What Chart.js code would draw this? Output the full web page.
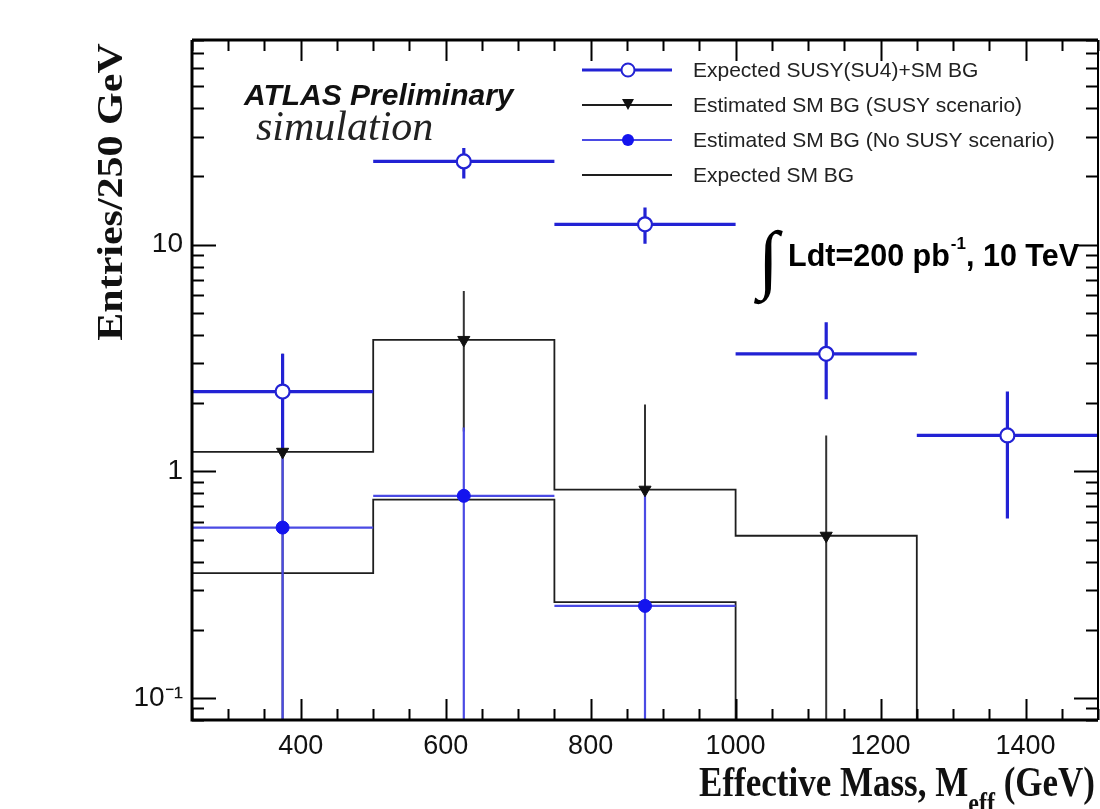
<!DOCTYPE html>
<html>
<head>
    <title>Effective Mass</title>
    <script src="https://cdn.jsdelivr.net/npm/chart.js"></script>
    <style>
        body { margin: 0; background: #fff; }
    </style>
</head>
<body>
    <canvas id="myChart" width="1100" height="809"></canvas>
    <script>
    // bins (GeV)
    const binEdges = [250, 500, 750, 1000, 1250, 1500];
    const binCenters = [375, 625, 875, 1125, 1375];

    // Expected SUSY(SU4)+SM BG
    const susyVal = [2.25, 23.3, 12.3, 3.3, 1.44];
    const susyHi = [3.3, 26.7, 14.6, 4.55, 2.25];
    const susyLo = [1.25, 19.6, 10.1, 2.08, 0.62];

    // Estimated SM BG (SUSY scenario)
    const estSusyVal = [1.22, 3.8, 0.83, 0.52, 0];
    const estSusyHi = [3.3, 6.25, 1.97, 1.44, 0];
    const estSusyLo = [0, 1.5, 0, 0, 0];

    // Estimated SM BG (No SUSY scenario)
    const estNoSusyVal = [0.565, 0.78, 0.255, 0, 0];
    const estNoSusyHi = [1.22, 1.56, 0.83, 0, 0];
    const estNoSusyLo = [0, 0, 0, 0, 0];

    // Expected SM BG
    const expSmBg = [0.356, 0.75, 0.265, 0, 0];

    const xTickVals = [400, 600, 800, 1000, 1200, 1400];
    const yTickVals = [0.1, 1, 10];
    const yTickLabels = ['10\u207B\u00B9', '1', '10'];

    const yMin = 0.08, yMax = 80;
    const BLUE = '#2222d4';
    const BLUE_LIGHT = '#4a4ae4';
    const BLACK = '#1e1e1e';

    // empty bins go down to the floor of the log axis
    const floor = v => (v > 0 ? v : yMin);

    function stepData(vals) {
        const pts = vals.map((v, i) => ({x: binEdges[i], y: floor(v)}));
        pts.push({x: binEdges[vals.length], y: floor(vals[vals.length - 1])});
        return pts;
    }
    function vBars(vals, lo, hi) {
        const pts = [];
        vals.forEach((v, i) => {
            if (v <= 0) return;
            pts.push({x: binCenters[i], y: floor(lo[i])}, {x: binCenters[i], y: floor(hi[i])}, {x: binCenters[i], y: null});
        });
        return pts;
    }
    function hBars(vals) {
        const pts = [];
        vals.forEach((v, i) => {
            if (v <= 0) return;
            pts.push({x: binEdges[i], y: v}, {x: binEdges[i + 1], y: v}, {x: binEdges[i + 1], y: null});
        });
        return pts;
    }
    function markers(vals) {
        return vals.map((v, i) => (v > 0 ? {x: binCenters[i], y: v} : null)).filter(p => p);
    }

    const lineDs = (data, color, width, order, extra) => Object.assign({
        data: data, borderColor: color, borderWidth: width, pointRadius: 0,
        fill: false, spanGaps: false, tension: 0, order: order
    }, extra || {});

    const datasets = [
        lineDs(stepData(expSmBg), BLACK, 1.8, 20, {stepped: 'before'}),
        lineDs(stepData(estSusyVal), BLACK, 1.8, 19, {stepped: 'before'}),
        lineDs(vBars(estSusyVal, estSusyLo, estSusyHi), '#333', 2, 18),
        lineDs(hBars(estNoSusyVal), BLUE_LIGHT, 2.2, 15),
        lineDs(vBars(estNoSusyVal, estNoSusyLo, estNoSusyHi), BLUE_LIGHT, 2.2, 15),
        lineDs(hBars(susyVal), BLUE, 3.2, 10),
        lineDs(vBars(susyVal, susyLo, susyHi), BLUE, 3.2, 10),
        {data: markers(estNoSusyVal), showLine: false, pointStyle: 'circle', pointRadius: 6.5,
         pointBackgroundColor: '#1414ee', pointBorderColor: '#1414ee', pointBorderWidth: 1, order: 3},
        {data: markers(estSusyVal), showLine: false, pointStyle: 'triangle', pointRotation: 180, pointRadius: 7,
         pointBackgroundColor: '#111', pointBorderColor: '#111', pointBorderWidth: 1, order: 2},
        {data: markers(susyVal), showLine: false, pointStyle: 'circle', pointRadius: 7,
         pointBackgroundColor: '#fff', pointBorderColor: BLUE, pointBorderWidth: 2.2, order: 1}
    ];

    // inward ROOT-style ticks, frame, titles, legend
    const decorPlugin = {
        id: 'decor',
        afterDraw(chart) {
            const ctx = chart.ctx;
            const a = chart.chartArea;
            const xs = chart.scales.x, ys = chart.scales.y;
            ctx.save();
            ctx.strokeStyle = '#000';
            ctx.lineWidth = 2;
            ctx.beginPath();
            for (let v = 250; v <= 1500; v += 50) {
                const px = Math.round(xs.getPixelForValue(v)) + 0.5;
                const len = xTickVals.includes(v) ? 21 : 11;
                ctx.moveTo(px, a.bottom); ctx.lineTo(px, a.bottom - len);
                ctx.moveTo(px, a.top); ctx.lineTo(px, a.top + len);
            }
            for (let d = -2; d <= 1; d++) {
                for (let k = 1; k <= 9; k++) {
                    const v = k * Math.pow(10, d);
                    if (v < yMin * 0.999 || v > yMax * 1.001) continue;
                    const py = Math.round(ys.getPixelForValue(v)) + 0.5;
                    const len = k === 1 ? 24 : 12;
                    ctx.moveTo(a.left, py); ctx.lineTo(a.left + len, py);
                    ctx.moveTo(a.right, py); ctx.lineTo(a.right - len, py);
                }
            }
            ctx.stroke();

            // frame
            ctx.lineWidth = 3;
            ctx.beginPath();
            ctx.moveTo(a.left, a.top); ctx.lineTo(a.left, a.bottom); ctx.lineTo(a.right, a.bottom);
            ctx.moveTo(a.left, a.top); ctx.lineTo(a.right, a.top);
            ctx.stroke();
            ctx.lineWidth = 2;
            ctx.beginPath();
            ctx.moveTo(a.right, a.top); ctx.lineTo(a.right, a.bottom);
            ctx.stroke();

            // y title
            ctx.fillStyle = '#111';
            ctx.save();
            ctx.translate(122, 192);
            ctx.rotate(-Math.PI / 2);
            ctx.scale(1.2, 1);
            ctx.font = 'bold 35px "Liberation Serif", "Times New Roman", serif';
            ctx.textAlign = 'center';
            ctx.textBaseline = 'alphabetic';
            ctx.fillText('Entries/250 GeV', 0, 0);
            ctx.restore();

            // x title with subscript
            ctx.save();
            ctx.translate(1095, 796);
            ctx.scale(1, 1.2);
            ctx.textAlign = 'right';
            ctx.textBaseline = 'alphabetic';
            ctx.font = 'bold 35px "Liberation Serif", "Times New Roman", serif';
            const tail = ' (GeV)';
            const wTail = ctx.measureText(tail).width;
            ctx.fillText(tail, 0, 0);
            ctx.font = 'bold 24px "Liberation Serif", "Times New Roman", serif';
            const wSub = ctx.measureText('eff').width;
            ctx.fillText('eff', -wTail, 14);
            ctx.font = 'bold 35px "Liberation Serif", "Times New Roman", serif';
            ctx.fillText('Effective Mass, M', -wTail - wSub, 0);
            ctx.restore();

            // ATLAS label
            ctx.textAlign = 'left';
            ctx.textBaseline = 'alphabetic';
            ctx.font = 'italic bold 30px "Liberation Sans", Arial, sans-serif';
            ctx.fillText('ATLAS Preliminary', 244, 105);
            ctx.font = 'italic 42px "Liberation Serif", "Times New Roman", serif';
            ctx.fillStyle = '#222';
            ctx.fillText('simulation', 256, 140);

            // luminosity
            ctx.fillStyle = '#000';
            ctx.font = '76px "Liberation Serif", "Times New Roman", serif';
            ctx.fillText('\u222B', 758, 284);
            ctx.font = 'bold 30.5px "Liberation Sans", Arial, sans-serif';
            let tx = 788;
            ctx.fillText('Ldt=200 pb', tx, 266);
            tx += ctx.measureText('Ldt=200 pb').width + 1;
            ctx.font = 'bold 17px "Liberation Sans", Arial, sans-serif';
            ctx.fillText('-1', tx, 249);
            tx += ctx.measureText('-1').width;
            ctx.font = 'bold 30.5px "Liberation Sans", Arial, sans-serif';
            ctx.fillText(', 10 TeV', tx, 266);

            // legend
            const rows = [
                {label: 'Expected SUSY(SU4)+SM BG', color: BLUE, width: 3, marker: 'open'},
                {label: 'Estimated SM BG (SUSY scenario)', color: BLACK, width: 2, marker: 'tri'},
                {label: 'Estimated SM BG (No SUSY scenario)', color: BLUE_LIGHT, width: 2, marker: 'dot'},
                {label: 'Expected SM BG', color: BLACK, width: 1.8, marker: null}
            ];
            rows.forEach((r, i) => {
                const y = 70 + i * 35;
                ctx.strokeStyle = r.color;
                ctx.lineWidth = r.width;
                ctx.beginPath();
                ctx.moveTo(582, y); ctx.lineTo(672, y);
                ctx.stroke();
                if (r.marker === 'open') {
                    ctx.beginPath(); ctx.arc(628, y, 6.5, 0, Math.PI * 2);
                    ctx.fillStyle = '#fff'; ctx.fill();
                    ctx.lineWidth = 2; ctx.strokeStyle = BLUE; ctx.stroke();
                } else if (r.marker === 'tri') {
                    ctx.beginPath(); ctx.moveTo(622, y - 6); ctx.lineTo(634, y - 6); ctx.lineTo(628, y + 5); ctx.closePath();
                    ctx.fillStyle = '#111'; ctx.fill();
                } else if (r.marker === 'dot') {
                    ctx.beginPath(); ctx.arc(628, y, 6, 0, Math.PI * 2);
                    ctx.fillStyle = '#1414ee'; ctx.fill();
                }
                ctx.fillStyle = '#222';
                ctx.font = '21px "Liberation Sans", Arial, sans-serif';
                ctx.textBaseline = 'middle';
                ctx.fillText(r.label, 693, y + 1);
                ctx.textBaseline = 'alphabetic';
            });
            ctx.restore();
        }
    };

    const ctx = document.getElementById('myChart').getContext('2d');
    const myChart = new Chart(ctx, {
        type: 'line',
        data: {datasets: datasets},
        options: {
            responsive: false,
            animation: false,
            devicePixelRatio: 1,
            layout: {autoPadding: false, padding: {top: 40, right: 2, left: 0, bottom: 0}},
            plugins: {legend: {display: false}, tooltip: {enabled: false}},
            scales: {
                x: {
                    type: 'linear', min: 250, max: 1500,
                    grid: {display: false, drawTicks: false},
                    border: {display: false},
                    afterBuildTicks: s => { s.ticks = xTickVals.map(v => ({value: v})); },
                    afterFit: s => { s.height = 89; },
                    ticks: {
                        font: {family: '"Liberation Sans", Arial, sans-serif', size: 27},
                        color: '#111', padding: 10, maxRotation: 0, autoSkip: false,
                        callback: v => String(v)
                    }
                },
                y: {
                    type: 'logarithmic', min: yMin, max: yMax,
                    grid: {display: false, drawTicks: false},
                    border: {display: false},
                    afterBuildTicks: s => { s.ticks = yTickVals.map(v => ({value: v})); },
                    afterFit: s => { s.width = 192; },
                    ticks: {
                        font: {family: '"Liberation Sans", Arial, sans-serif', size: 28},
                        color: '#111', padding: 9, autoSkip: false,
                        callback: (v, i) => yTickLabels[i]
                    }
                }
            }
        },
        plugins: [decorPlugin]
    });
    </script>
</body>
</html>
